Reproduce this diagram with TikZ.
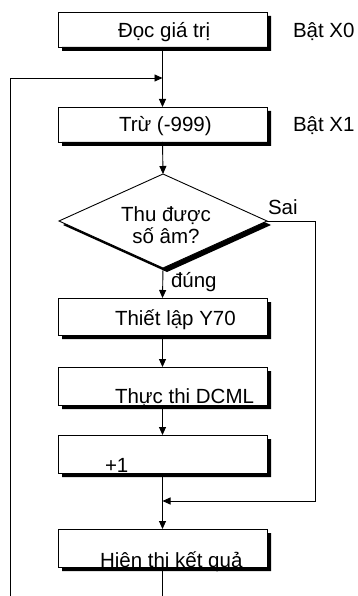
\documentclass[tikz,border=0pt]{standalone}
\usepackage{fontspec}
\setmainfont{Liberation Sans}
\usetikzlibrary{arrows.meta,shapes.geometric,calc}
\tikzset{
  flowbox/.style={draw, fill=white, line width=0.9pt, minimum width=209pt, inner sep=0pt, outer sep=0pt},
  lbl/.style={font=\fontsize{20.5}{24}\selectfont, inner sep=0pt, outer sep=0pt, anchor=base west},
  conn/.style={line width=0.9pt},
  arr/.style={conn, -{Triangle[length=8pt,width=7pt]}}
}
\newcommand\boxshadow[1]{%
  \fill ([xshift=4pt]#1.south west) -- (#1.south east) -- ([yshift=-4pt]#1.north east)
    -- ([xshift=4pt,yshift=-4pt]#1.north east) -- ([xshift=4pt,yshift=-4pt]#1.south east)
    -- ([xshift=4pt,yshift=-4pt]#1.south west) -- cycle;}
\begin{document}
\begin{tikzpicture}[x=1pt,y=-1pt]
\useasboundingbox (0,0) rectangle (358,596);
% coordinates
\coordinate (lb) at (10,596);
\coordinate (lt) at (162.5,78);
\coordinate (sr) at (315,501);
\coordinate (mj) at (162.5,501);
\coordinate (bot) at (162.5,596);
% boxes
\node[flowbox, minimum height=35pt] (b1) at (162.5,29.5) {};
\node[flowbox, minimum height=35pt] (b2) at (162.5,124.5) {};
\node[flowbox, minimum height=37pt] (b3) at (162.5,316.5) {};
\node[flowbox, minimum height=38pt] (b4) at (162.5,386) {};
\node[flowbox, minimum height=38pt] (b5) at (162.5,454) {};
\node[flowbox, minimum height=38pt] (b6) at (162.5,548) {};
\node[diamond, fill=black, minimum width=208pt, minimum height=94pt, inner sep=0pt, outer sep=0pt] (dsh) at (167,225) {};
\node[diamond, draw, fill=white, line width=0.9pt, minimum width=208pt, minimum height=94pt, inner sep=0pt, outer sep=0pt] (dm) at (163,221) {};
% texts
\node[lbl] (t1) at (118,38) {Đọc giá trị};
\node[lbl] (t2) at (119,132) {Trừ (-999)};
\node[lbl] (t3) at (115,325) {Thiết lập Y70};
\node[lbl] (t4) at (115,403) {Thực thi DCML};
\node[lbl] (t5) at (105,472) {+1};
\node[lbl] (t6) at (100,567) {Hiện thị kết quả};
\node[lbl] (x0) at (293,38) {Bật X0};
\node[lbl] (x1) at (293,132) {Bật X1};
\node[lbl, anchor=base] (q1) at (166,221) {Thu được};
\node[lbl, anchor=base] (q2) at (166,243) {số âm?};
\node[lbl] (sai) at (268,214) {Sai};
\node[lbl] (dung) at (171,287) {đúng};
% shadows on top
\boxshadow{b1}\boxshadow{b2}\boxshadow{b3}\boxshadow{b4}\boxshadow{b5}\boxshadow{b6}
% connectors
\draw[arr] (b1.south) -- (b2.north);
\draw[arr] (lb) |- (lt);
\draw[arr] (b2.south) -- (dm.north);
\draw[arr] (dm.east) -| (sr) -- (mj);
\draw[arr] (dm.south) -- (b3.north);
\draw[arr] (b3.south) -- (b4.north);
\draw[arr] (b4.south) -- (b5.north);
\draw[arr] (b5.south) -- (b6.north);
\draw[conn] (b6.south) -- (bot);
\end{tikzpicture}
\end{document}
